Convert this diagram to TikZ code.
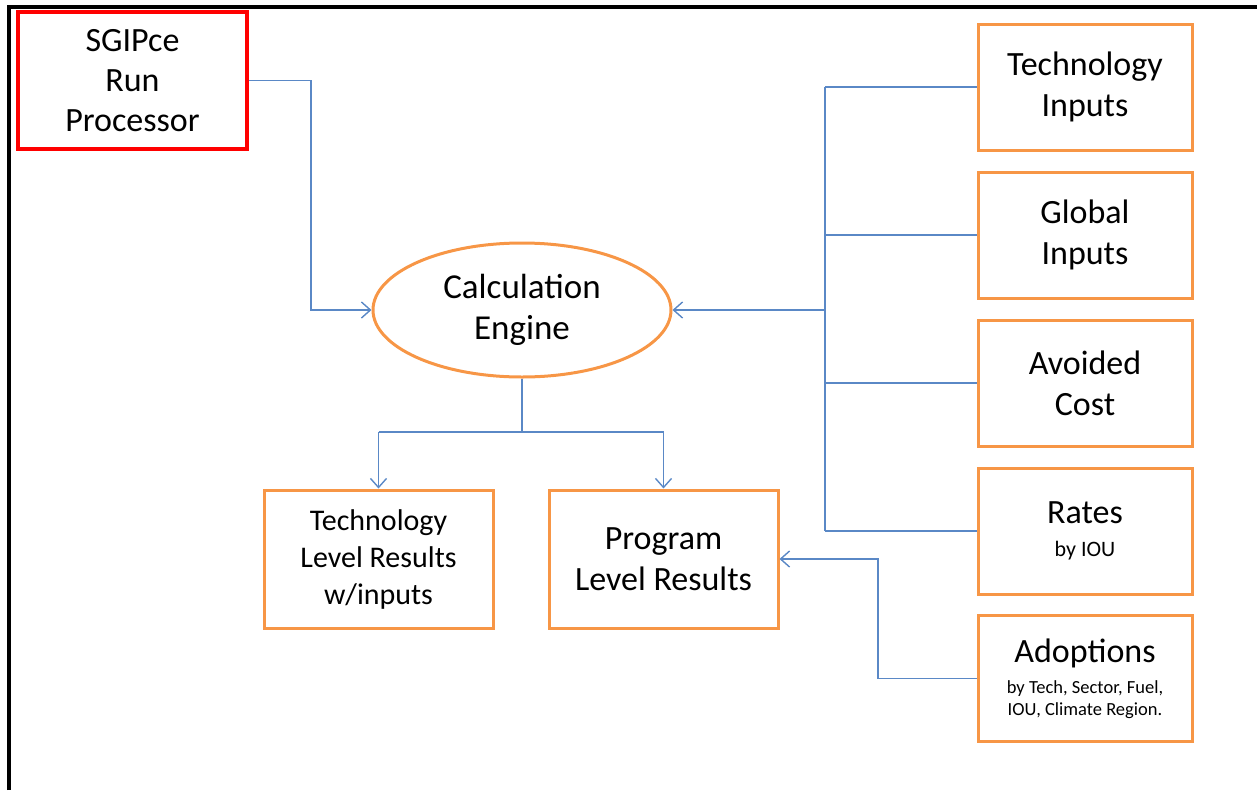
\documentclass[tikz,border=0pt]{standalone}
\usepackage{fontspec}
\setmainfont{Carlito}
\usetikzlibrary{arrows.meta,shapes.geometric}
\definecolor{boxorange}{HTML}{F79646}
\definecolor{linkblue}{HTML}{5A88C6}
\definecolor{boxred}{HTML}{FF0000}
\begin{document}
\begin{tikzpicture}[x=1pt,y=-1pt,
  obox/.style={draw=boxorange,line width=3pt,rectangle,align=center,inner sep=0pt,
    minimum width=214pt,minimum height=126pt,font=\fontsize{34}{41}\selectfont},
  conn/.style={draw=linkblue,line width=1.4pt},
  arr/.style={conn,-{Straight Barb[length=9pt,width=16pt,line width=1.4pt]}}]
\useasboundingbox (0,0) rectangle (1257,790);
\draw[line width=4pt] (9,790) -- (9,7) -- (1257,7);

\node[draw=boxred,line width=4.5pt,rectangle,align=center,inner sep=0pt,
  minimum width=229pt,minimum height=137pt,font=\fontsize{34}{40}\selectfont]
  (sgip) at (132.5,80.5) {SGIPce\\Run\\Processor};

\node[obox] (tech) at (1085,87) {Technology\\Inputs};
\node[obox] (glob) at (1085,235) {Global\\Inputs};
\node[obox] (avoid) at (1085,383) {Avoided\\Cost};
\node[obox] (rates) at (1085,531) {Rates\\[-8pt]{\fontsize{22}{24}\selectfont by IOU}};
\node[obox] (adopt) at (1085,678.5) {Adoptions\\[-10pt]{\fontsize{18.5}{21}\selectfont by Tech, Sector, Fuel,}\\[-19pt]{\fontsize{18.5}{21}\selectfont IOU, Climate Region.}};

\node[draw=boxorange,line width=3pt,ellipse,inner sep=0pt,minimum width=298pt,
  minimum height=134pt,align=center,font=\fontsize{35}{41}\selectfont]
  (eng) at (522,310) {Calculation\\Engine};

\node[obox,minimum width=229pt,minimum height=138pt,font=\fontsize{30}{37}\selectfont]
  (techres) at (378.5,559) {Technology\\Level Results\\w/inputs};
\node[obox,minimum width=229pt,minimum height=138pt]
  (prog) at (663.5,559) {Program\\Level Results};

\coordinate (c1) at (311,310);
\coordinate (bus) at (825,310);
\coordinate (split) at (522,432);
\coordinate (ad) at (878,0);

\draw[arr] (sgip.east) -| (c1) -- (eng.west);

\draw[conn] (tech.west -| bus) -- (rates.west -| bus);
\draw[conn] (tech.west) -- (tech.west -| bus);
\draw[conn] (glob.west) -- (glob.west -| bus);
\draw[conn] (avoid.west) -- (avoid.west -| bus);
\draw[conn] (rates.west) -- (rates.west -| bus);
\draw[arr] (bus) -- (eng.east);

\draw[conn] (eng.south) -- (split);
\draw[conn] (techres.north |- split) -- (prog.north |- split);
\draw[arr] (techres.north |- split) -- (techres.north);
\draw[arr] (prog.north |- split) -- (prog.north);

\draw[arr] (adopt.west) -- (adopt.west -| ad) |- (prog.east);
\end{tikzpicture}
\end{document}
